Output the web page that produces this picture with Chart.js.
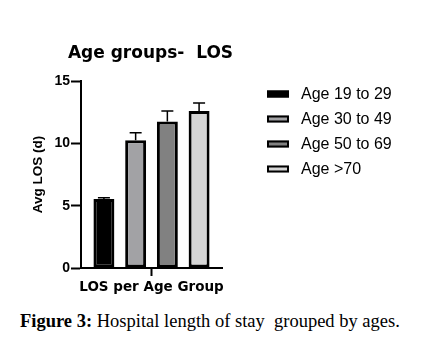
<!DOCTYPE html>
<html>
<head>
<meta charset="utf-8">
<script src="https://cdn.jsdelivr.net/npm/chart.js@4/dist/chart.umd.min.js"></script>
<style>
  html, body { margin: 0; padding: 0; background: #fff; }
  #wrap { position: relative; width: 446px; height: 345px; overflow: hidden; }
  #c { position: absolute; left: 0; top: 0; }
  #cap { position: absolute; left: 20px; top: 311px; font-family: "Liberation Serif", "DejaVu Serif", serif; font-size: 18.5px; line-height: 20px; color: #000; white-space: pre; }
  #cap b { font-weight: bold; }
</style>
</head>
<body>
<div id="wrap">
  <canvas id="c" width="446" height="305"></canvas>
  <div id="cap"><b>Figure 3:</b> Hospital length of stay  grouped by ages.</div>
</div>
<script>
const chartTitle = "Age groups-  LOS";
const categories = ["LOS per Age Group"];
const seriesNames = ["Age 19 to 29", "Age 30 to 49", "Age 50 to 69", "Age >70"];
const meanLOS = [5.53, 10.24, 11.76, 12.59];
const errLOS = [0.11, 0.61, 0.83, 0.64];
const yTicks = [0, 5, 10, 15];
const fills = ["#000000", "#a2a2a5", "#818181", "#d5d5d5"];

const datasets = seriesNames.map((name, i) => ({
  label: name,
  data: [meanLOS[i]],
  err: errLOS[i],
  backgroundColor: fills[i],
  borderColor: "#000",
  borderWidth: 3,
  borderSkipped: false,
  barPercentage: 0.66,
  categoryPercentage: 0.9
}));

const errorBars = {
  id: "errorBars",
  afterDatasetsDraw(chart) {
    const ctx = chart.ctx;
    const y = chart.scales.y;
    ctx.save();
    ctx.strokeStyle = "#000";
    ctx.lineWidth = 1.5;
    chart.data.datasets.forEach((ds, i) => {
      const el = chart.getDatasetMeta(i).data[0];
      const top = y.getPixelForValue(ds.data[0] + ds.err);
      ctx.beginPath();
      ctx.moveTo(el.x, el.y);
      ctx.lineTo(el.x, top);
      ctx.moveTo(el.x - 6, top);
      ctx.lineTo(el.x + 6, top);
      ctx.stroke();
    });
    ctx.restore();
  }
};

const titleAndLegend = {
  id: "titleAndLegend",
  afterDraw(chart) {
    const ctx = chart.ctx;
    const area = chart.chartArea;
    ctx.save();
    // title
    ctx.font = "bold 17px 'DejaVu Sans', sans-serif";
    ctx.fillStyle = "#000";
    ctx.textAlign = "center";
    ctx.textBaseline = "alphabetic";
    ctx.fillText(chartTitle, (area.left + area.right) / 2 - 1, 58);
    // legend
    const x0 = area.right + 45;
    const y0 = 94, step = 25;
    ctx.font = "16px 'Liberation Sans', Arial, sans-serif";
    ctx.textAlign = "left";
    ctx.textBaseline = "middle";
    chart.data.datasets.forEach((ds, i) => {
      const cy = y0 + i * step;
      ctx.fillStyle = ds.backgroundColor;
      ctx.fillRect(x0, cy - 3.5, 22, 7);
      ctx.strokeStyle = "#000";
      ctx.lineWidth = 2;
      ctx.strokeRect(x0 + 1, cy - 2.5, 20, 5);
      ctx.fillStyle = "#000";
      ctx.fillText(ds.label, x0 + 34, cy + 1);
    });
    ctx.restore();
  }
};

new Chart(document.getElementById("c"), {
  type: "bar",
  data: { labels: categories, datasets },
  plugins: [errorBars, titleAndLegend],
  options: {
    responsive: false,
    animation: false,
    layout: { padding: { left: 0, right: 224, top: 81, bottom: 0 } },
    plugins: {
      legend: { display: false },
      tooltip: { enabled: false },
      title: { display: false }
    },
    scales: {
      x: {
        offset: true,
        grid: { display: true, drawOnChartArea: false, drawTicks: true, tickLength: 8, tickWidth: 2, tickColor: "#000", offset: false },
        border: { display: true, color: "#000", width: 2 },
        ticks: { color: "#000", padding: 3, maxRotation: 0, font: { family: "'DejaVu Sans', sans-serif", size: 13.5, weight: "bold" } },
        afterFit: s => { s.height = 37; }
      },
      y: {
        min: 0, max: 15,
        afterBuildTicks: s => { s.ticks = yTicks.map(v => ({ value: v })); },
        grid: { display: true, drawOnChartArea: false, drawTicks: true, tickLength: 10, tickWidth: 2, tickColor: "#000" },
        border: { display: true, color: "#000", width: 2 },
        ticks: { color: "#000", padding: 1, font: { family: "'Liberation Sans', Arial, sans-serif", size: 14, weight: "bold" } },
        title: {
          display: true,
          text: "Avg LOS (d)",
          color: "#000",
          font: { family: "'Liberation Sans', Arial, sans-serif", size: 13.5, weight: "bold" },
          padding: { top: 30, bottom: 0 }
        },
        afterFit: s => { s.width = 81; }
      }
    }
  }
});
</script>
</body>
</html>
